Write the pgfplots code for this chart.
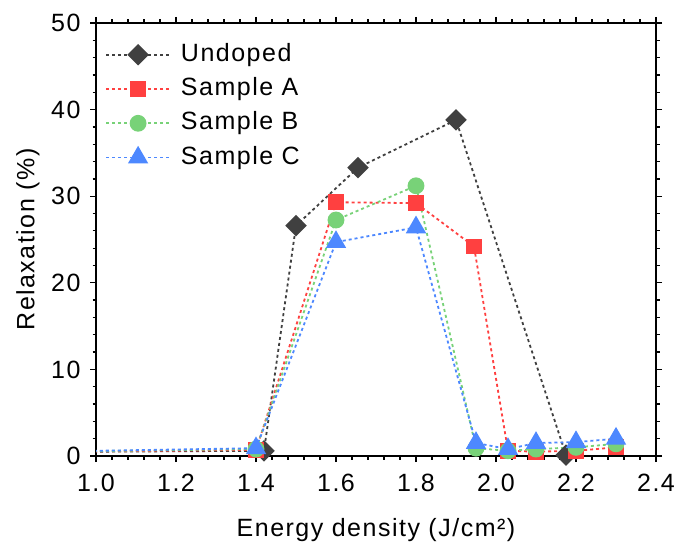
\documentclass[border=0pt]{standalone}
\usepackage{fontspec}
\setmainfont{Liberation Sans}[LetterSpace=6]
\usepackage{pgfplots}
\pgfplotsset{compat=1.18}
\definecolor{cU}{RGB}{64,64,64}
\definecolor{cA}{RGB}{255,64,64}
\definecolor{cB}{RGB}{120,210,120}
\definecolor{cC}{RGB}{77,136,255}
\begin{document}
\begin{tikzpicture}
\useasboundingbox (0,0) rectangle (676bp,545bp);
\begin{axis}[
  at={(96bp,89bp)}, anchor=south west,
  scale only axis, width=560bp, height=433bp,
  xmin=1.0, xmax=2.4, ymin=0, ymax=50,
  xtick={1.0,1.2,1.4,1.6,1.8,2.0,2.2,2.4},
  ytick={0,10,20,30,40,50},
  minor x tick num=4, minor y tick num=4,
  tick align=outside, tick pos=both,
  xticklabel pos=left, yticklabel pos=left,
  major tick length=6bp, minor tick length=3.5bp,
  axis line style={line width=1.6bp},
  every tick/.style={line width=1.3bp, black},
  /pgf/number format/assume math mode=true,
  ticklabel style={font=\fontsize{25bp}{29bp}\selectfont},
  xticklabel style={yshift=-9bp, /pgf/number format/.cd, fixed, fixed zerofill, precision=1},
  yticklabel style={xshift=-6bp},
  label style={font=\fontsize{25bp}{29bp}\selectfont},
  xlabel={Energy density (J/cm²)},
  ylabel={Relaxation (\%)},
  xlabel style={at={(axis description cs:0.5,-81/433)}, anchor=base},
  ylabel style={at={(axis description cs:-68/560,0.5)}, anchor=center},
  every axis plot/.append style={line width=1.8bp, dash pattern=on 3bp off 3bp},
  legend image code/.code={\draw[mark repeat=2,mark phase=2,#1] plot coordinates {(0bp,0bp)(32bp,0bp)(64bp,0bp)};},
  legend style={draw=none, fill=none, at={(9/560,1-20/433)}, anchor=north west,
    font=\fontsize{25bp}{29bp}\selectfont, row sep=11.3bp, inner sep=0pt,
    nodes={text height=18bp, text depth=5bp, inner xsep=5bp, inner ysep=0pt},
    /tikz/every odd column/.append style={column sep=5bp}},
  legend cell align=left,
]
\addplot[color=cU, mark=square*, mark size=6.7bp, mark options={solid, rotate=45, fill=cU}]
  coordinates {(0.8,0.45) (1.42,0.6) (1.5,26.6) (1.655,33.3) (1.9,38.8) (2.175,0.1)};
\addlegendentry{Undoped}
\addplot[color=cA, mark=square*, mark size=7bp, mark options={solid, fill=cA}]
  coordinates {(0.8,0.45) (1.4,0.7) (1.6,29.3) (1.8,29.2) (1.945,24.2) (2.03,0.6) (2.1,0.5) (2.2,0.6) (2.3,1.0)};
\addlegendentry{Sample A}
\addplot[color=cB, mark=*, mark size=7.5bp, mark options={solid, fill=cB}]
  coordinates {(0.8,0.45) (1.4,0.8) (1.6,27.25) (1.8,31.2) (1.95,0.9) (2.03,0.6) (2.1,0.8) (2.2,1.0) (2.3,1.4)};
\addlegendentry{Sample B}
\addplot[color=cC, mark=triangle*, mark size=10bp, mark options={solid, fill=cC}]
  coordinates {(0.8,0.45) (1.4,0.9) (1.6,24.7) (1.8,26.4) (1.95,1.5) (2.03,0.8) (2.1,1.5) (2.2,1.6) (2.3,2.0)};
\addlegendentry{Sample C}
\end{axis}
\end{tikzpicture}
\end{document}
